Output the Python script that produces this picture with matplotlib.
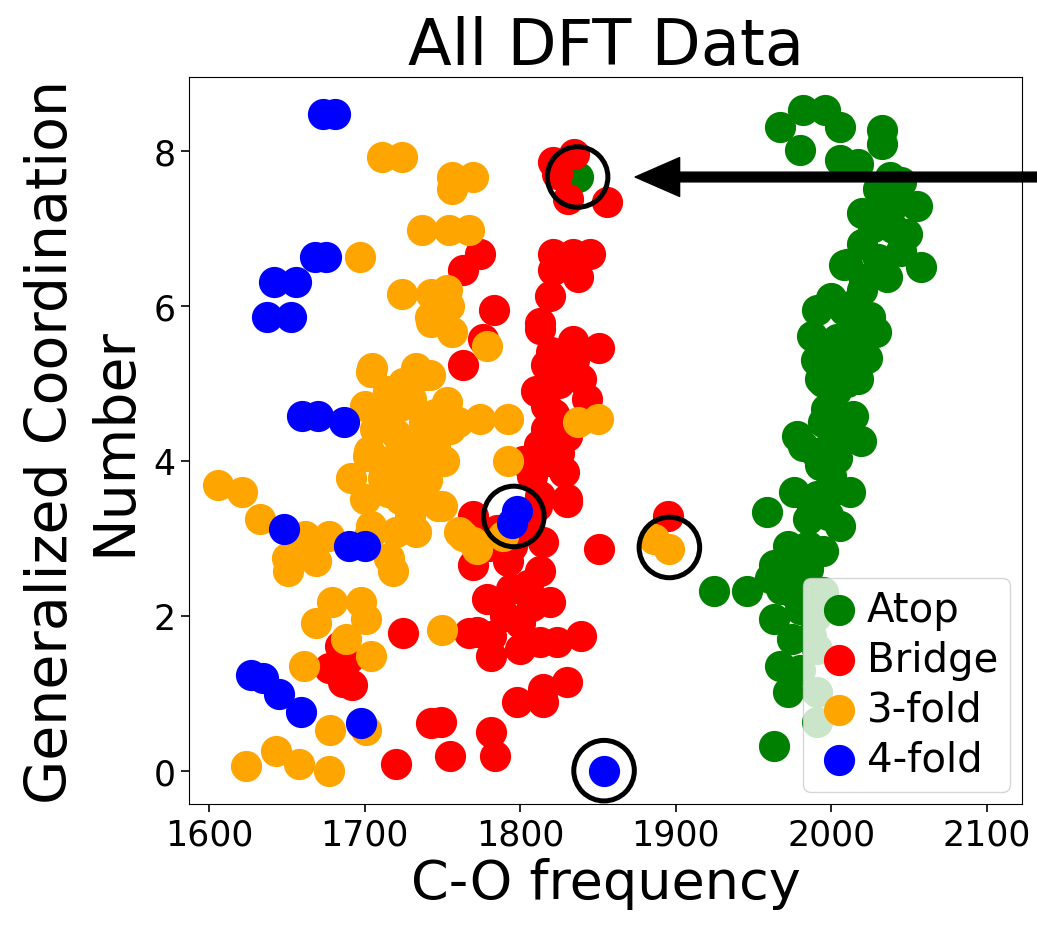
import numpy as np
import matplotlib
matplotlib.use('Agg')
import matplotlib.pyplot as plt

# C-O frequency / generalized coordination number
atop_x = [1967, 1982, 1996, 2006, 1980, 2033, 2033, 2006, 2017, 2038, 2030, 2055, 2042, 2027, 2049, 2058,
          2010, 2036, 2021, 1991, 2008, 2025, 2008, 2012, 1988, 2027, 2004, 2023, 1995, 2010, 1997, 2014,
          1982, 2019, 2004, 1993, 1976, 2012, 1991, 1959, 2006, 1985, 1995, 1978, 1963, 1925, 1946, 1961,
          1963, 1980, 1987, 1967, 1972, 1963, 1995, 1991, 1991, 1991, 1978, 1993, 2017, 2000, 2000, 1998,
          1985, 1975, 1980, 2000, 2020, 2040, 2045, 2003, 2029,
          1990, 2005, 2015, 1995, 2008, 1990, 2000, 1988, 1985, 1972, 1968, 1978, 1990, 1975,
          2020, 2035, 2045, 2030, 2020, 2000, 2015, 1837]
atop_y = [8.31, 8.53, 8.53, 8.31, 8.01, 8.27, 8.09, 7.88, 7.83, 7.66, 7.50, 7.28, 7.32, 7.02, 6.93, 6.50,
          6.54, 6.37, 6.34, 5.95, 5.95, 5.86, 6.52, 6.00, 5.61, 5.66, 5.57, 5.32, 5.02, 5.02, 4.67, 4.58,
          4.19, 4.25, 4.03, 3.94, 3.60, 3.60, 3.55, 3.34, 3.16, 3.25, 2.83, 2.74, 2.65, 2.32, 2.32, 2.48,
          1.96, 2.09, 1.74, 1.35, 1.02, 0.32, 2.31, 0.63, 1.02, 1.57, 4.32, 5.06, 5.06, 4.40, 3.80, 3.30,
          2.90, 2.30, 1.30, 5.30, 6.80, 7.00, 7.60, 4.90, 5.66,
          5.30, 5.20, 5.50, 4.50, 4.30, 4.10, 3.60, 3.40, 2.60, 2.90, 2.35, 2.50, 2.00, 1.70,
          7.20, 7.20, 6.70, 6.60, 6.20, 6.10, 5.80, 7.66]

bridge_x = [1821, 1835, 1831, 1856, 1824, 1821, 1834, 1845, 1821, 1837, 1819, 1813, 1774, 1763, 1783,
            1813, 1834, 1851, 1817, 1839, 1843, 1817, 1817, 1830, 1763, 1776, 1825, 1810, 1822, 1812,
            1835, 1820, 1802, 1819, 1828, 1830, 1813, 1770, 1815, 1851, 1895, 1811, 1830, 1805, 1770,
            1792, 1813, 1794, 1779, 1808, 1819, 1772, 1781, 1781, 1800, 1813, 1824, 1839, 1798, 1815,
            1815, 1830, 1781, 1784, 1755, 1749, 1725, 1767, 1743, 1720, 1686, 1677, 1692, 1684, 1690,
            1785, 1795, 1780, 1805, 1790, 1800, 1825, 1808]
bridge_y = [7.86, 7.96, 7.37, 7.34, 7.70, 6.67, 6.67, 6.67, 6.46, 6.37, 6.12, 5.77, 6.67, 6.46, 5.95,
            5.70, 5.54, 5.45, 5.23, 5.06, 4.80, 4.71, 4.41, 4.32, 5.23, 5.57, 5.00, 4.90, 4.60, 4.20,
            5.30, 5.40, 3.99, 3.99, 3.86, 3.51, 3.55, 3.29, 2.95, 2.86, 3.29, 3.42, 3.47, 3.10, 2.65,
            2.70, 2.57, 2.35, 2.22, 2.13, 2.18, 1.79, 1.74, 1.48, 1.57, 1.66, 1.66, 1.74, 0.89, 0.89,
            1.06, 1.15, 0.50, 0.19, 0.19, 0.63, 1.77, 1.77, 0.61, 0.09, 1.15, 1.32, 1.10, 1.61, 1.45,
            3.10, 2.90, 2.90, 2.40, 2.00, 1.90, 4.10, 3.80]

threefold_x = [1711, 1724, 1756, 1756, 1770, 1737, 1754, 1767, 1697, 1724, 1743, 1754, 1742, 1753, 1779,
               1743, 1756, 1705, 1733, 1742, 1704, 1738, 1723, 1753, 1708, 1774, 1792, 1738, 1755, 1702,
               1723, 1751, 1691, 1712, 1727, 1723, 1747, 1729, 1704, 1727, 1716, 1707, 1703, 1715, 1745,
               1735, 1700, 1837, 1850, 1792, 1750, 1761, 1770, 1789, 1763, 1772, 1886, 1896, 1606, 1621,
               1633, 1662, 1677, 1662, 1650, 1703, 1720, 1733, 1716, 1651, 1669, 1718, 1679, 1698, 1669,
               1701, 1688, 1704, 1661, 1750, 1678, 1701, 1643, 1658, 1624, 1677,
               1715, 1730, 1745, 1720, 1735, 1710, 1740, 1715, 1700, 1735, 1760, 1725]
threefold_y = [7.92, 7.92, 7.66, 7.50, 7.66, 6.98, 6.98, 6.98, 6.63, 6.15, 6.15, 5.99, 5.86, 6.20, 5.48,
               5.79, 5.66, 5.19, 5.19, 5.10, 5.15, 5.10, 4.71, 4.76, 4.50, 4.54, 4.54, 4.50, 4.41, 4.06,
               4.12, 3.99, 3.77, 3.77, 3.86, 3.51, 3.42, 3.29, 3.16, 3.16, 4.58, 4.41, 4.12, 4.90, 4.20,
               3.90, 4.70, 4.50, 4.54, 3.99, 3.42, 3.08, 2.95, 3.03, 3.03, 2.86, 2.99, 2.86, 3.68, 3.60,
               3.25, 3.03, 3.03, 2.83, 2.74, 3.03, 3.08, 3.08, 2.74, 2.57, 2.70, 2.57, 2.18, 2.18, 1.90,
               1.96, 1.70, 1.48, 1.35, 1.81, 0.52, 0.52, 0.26, 0.09, 0.06, -0.01,
               4.70, 4.80, 4.60, 4.35, 4.20, 4.00, 3.75, 3.60, 3.50, 3.55, 4.50, 5.00]

fourfold_x = [1673, 1681, 1668, 1675, 1642, 1656, 1637, 1653, 1660, 1670, 1687, 1648, 1690, 1700,
              1627, 1635, 1645, 1659, 1698, 1854, 1798, 1795]
fourfold_y = [8.47, 8.47, 6.63, 6.63, 6.31, 6.31, 5.86, 5.86, 4.58, 4.58, 4.50, 3.12, 2.90, 2.90,
              1.23, 1.19, 0.99, 0.76, 0.61, 0.00, 3.35, 3.19]

# highlighted points and arrow target
circ_x = [1837, 1796, 1896, 1854]
circ_y = [7.66, 3.28, 2.88, 0.00]
arrow_pt = (1874, 7.66)

fig = plt.figure(figsize=(10.37, 9.29), dpi=100)
ax = fig.add_axes([0.182, 0.1335, 0.804, 0.7825])

ms = 460
ax.scatter(atop_x, atop_y, s=ms, c='green', label='Atop')
ax.scatter(bridge_x, bridge_y, s=ms, c='red', label='Bridge')
ax.scatter(threefold_x, threefold_y, s=ms, c='orange', label='3-fold')
ax.scatter(fourfold_x, fourfold_y, s=ms, c='blue', label='4-fold')

ax.scatter(circ_x, circ_y, s=1900, facecolors='none', edgecolors='black', linewidths=3.6, zorder=5)

ax.annotate('', xy=arrow_pt, xycoords='data', xytext=(1.0, arrow_pt[1]),
            textcoords=('figure fraction', 'data'),
            arrowprops=dict(facecolor='black', edgecolor='black', width=7, headwidth=28, headlength=32),
            annotation_clip=False)

ax.set_xlim(1587, 2123)
ax.set_ylim(-0.43, 8.95)
ax.set_xticks([1600, 1700, 1800, 1900, 2000, 2100])
ax.set_yticks([0, 2, 4, 6, 8])
ax.tick_params(labelsize=25, length=6, width=1.2)

ax.set_title('All DFT Data', fontsize=46)
ax.set_xlabel('C-O frequency', fontsize=39)
ax.set_ylabel('Generalized Coordination\nNumber', fontsize=41, labelpad=8)

ax.legend(loc='lower right', fontsize=29, handletextpad=0.1, borderpad=0.3, labelspacing=0.25,
          handlelength=1.2, borderaxespad=0.3)

fig.savefig('out.png', dpi=100)
